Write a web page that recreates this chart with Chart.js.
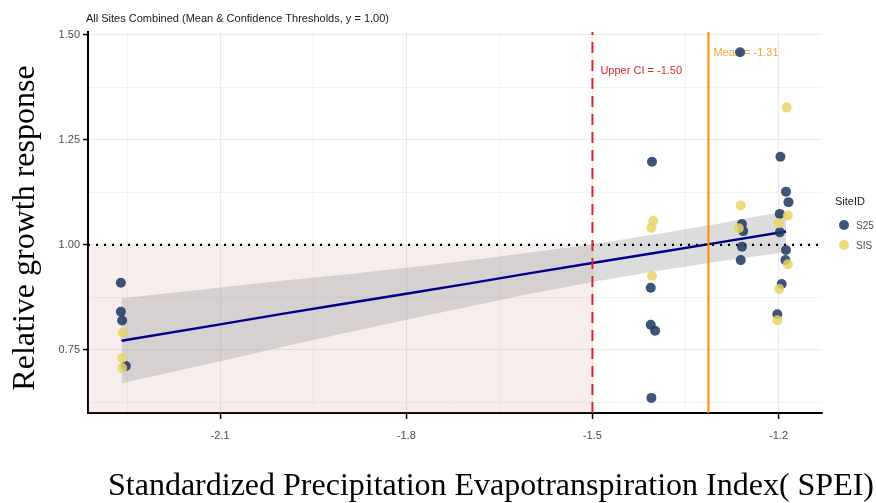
<!DOCTYPE html>
<html><head><meta charset="utf-8">
<script src="https://cdn.jsdelivr.net/npm/chart.js@4.4.1/dist/chart.umd.min.js"></script>
<style>html,body{margin:0;padding:0;background:#fff;}#wrap{width:876px;height:503px;}</style>
</head><body><div id="wrap"><canvas id="c" width="876" height="503"></canvas></div>
<script>
const chartTitle = 'All Sites Combined (Mean & Confidence Thresholds, y = 1.00)';
const xTitle = 'Standardized Precipitation Evapotranspiration Index( SPEI)';
const yTitle = 'Relative growth response';
const legendTitle = 'SiteID';
const siteNames = ['S25', 'SIS'];

const xTicks = [-2.1, -1.8, -1.5, -1.2];
const xMinorTicks = [-2.25, -1.95, -1.65, -1.35];
const yTicks = [0.75, 1.00, 1.25, 1.50];
const yMinorTicks = [0.625, 0.875, 1.125, 1.375];
const xRange = [-2.313, -1.130];
const yRange = [0.600, 1.507];

const s25X = [-2.260, -2.260, -2.258, -2.252,
  -1.404, -1.406, -1.406, -1.399, -1.405,
  -1.262, -1.197, -1.188, -1.184, -1.198, -1.198, -1.259, -1.257, -1.259, -1.261, -1.188, -1.189, -1.195, -1.202];
const s25Y = [0.910, 0.841, 0.820, 0.712,
  1.198, 0.898, 0.810, 0.796, 0.636,
  1.459, 1.210, 1.127, 1.102, 1.074, 1.030, 1.050, 1.033, 0.996, 0.964, 0.988, 0.964, 0.907, 0.835];
const sisX = [-2.257, -2.258, -2.258,
  -1.402, -1.405, -1.404,
  -1.187, -1.261, -1.185, -1.200, -1.264, -1.185, -1.199, -1.202];
const sisY = [0.791, 0.731, 0.707,
  1.057, 1.041, 0.926,
  1.327, 1.094, 1.070, 1.052, 1.040, 0.954, 0.895, 0.821];

const fitX    = [-2.259, -2.1, -2.0, -1.9, -1.8, -1.7, -1.6, -1.5, -1.4, -1.3, -1.188];
const fitY    = [0.772, 0.811, 0.836, 0.860, 0.884, 0.908, 0.933, 0.957, 0.981, 1.005, 1.032];
const ciLower = [0.671, 0.723, 0.757, 0.790, 0.822, 0.853, 0.884, 0.912, 0.937, 0.960, 0.983];
const ciUpper = [0.873, 0.899, 0.915, 0.930, 0.946, 0.963, 0.982, 1.002, 1.025, 1.050, 1.081];

const upperCI = -1.50;
const meanSPEI = -1.313;
const refY = 1.00;

const colS25 = 'rgba(28,54,98,0.85)';
const colSIS = 'rgba(233,211,100,0.85)';

const pts = (xs, ys) => xs.map((v, i) => ({x: v, y: ys[i]}));
const isMajor = (arr, v) => arr.some(t => Math.abs(t - v) < 1e-6);

const decor = {
  id: 'decor',
  beforeDatasetsDraw(chart) {
    const {ctx, chartArea: a, scales: {x, y}} = chart;
    ctx.save();
    const xr = x.getPixelForValue(upperCI), yt = y.getPixelForValue(refY);
    ctx.fillStyle = 'rgba(200,130,130,0.14)';
    ctx.fillRect(a.left, yt, xr - a.left, a.bottom - yt);
    ctx.font = '11px "Liberation Sans", Arial, sans-serif';
    ctx.textBaseline = 'middle';
    ctx.textAlign = 'left';
    ctx.fillStyle = '#d42a2a';
    ctx.fillText('Upper CI = ' + upperCI.toFixed(2), xr + 8, a.top + 39);
    ctx.fillStyle = '#f6a33c';
    ctx.fillText('Mean = ' + meanSPEI.toFixed(2), x.getPixelForValue(meanSPEI) + 5, a.top + 21);
    ctx.restore();
  },
  afterDraw(chart) {
    const {ctx, chartArea: a} = chart;
    ctx.save();
    ctx.fillStyle = '#1a1a1a';
    ctx.font = '11px "Liberation Sans", Arial, sans-serif';
    ctx.textAlign = 'left';
    ctx.textBaseline = 'middle';
    ctx.fillText(chartTitle, a.left - 2, 19);
    ctx.fillText(legendTitle, 835, 202);
    const cols = [colS25, colSIS];
    siteNames.forEach((n, i) => {
      const cy = 225 + i * 20;
      ctx.fillStyle = cols[i];
      ctx.beginPath(); ctx.arc(844, cy, 5, 0, Math.PI * 2); ctx.fill();
      ctx.fillStyle = '#4d4d4d';
      ctx.font = '10px "Liberation Sans", Arial, sans-serif';
      ctx.fillText(n, 856, cy + 1);
    });
    ctx.fillStyle = '#000';
    ctx.font = '32px "Liberation Serif", "Times New Roman", serif';
    ctx.textAlign = 'center';
    ctx.textBaseline = 'alphabetic';
    ctx.fillText(xTitle, 491, 495);
    ctx.translate(34, 228);
    ctx.rotate(-Math.PI / 2);
    ctx.fillText(yTitle, 0, 0);
    ctx.restore();
  }
};

const lineDs = (data, extra) => Object.assign({
  data, showLine: true, pointRadius: 0, pointHoverRadius: 0, fill: false
}, extra);

new Chart(document.getElementById('c'), {
  type: 'scatter',
  data: {
    datasets: [
      lineDs(pts(fitX, ciLower), {label: 'ciLower', borderWidth: 0, borderColor: 'rgba(0,0,0,0)', order: 20}),
      lineDs(pts(fitX, ciUpper), {label: 'ciUpper', borderWidth: 0, borderColor: 'rgba(0,0,0,0)', fill: '-1', backgroundColor: 'rgba(150,150,150,0.33)', order: 19}),
      lineDs(pts(fitX, fitY), {label: 'fit', borderColor: '#00008b', borderWidth: 2.5, order: 18}),
      lineDs([{x: xRange[0], y: refY}, {x: xRange[1], y: refY}], {label: 'ref', borderColor: '#000', borderWidth: 2.2, borderDash: [2, 6], order: 17}),
      {label: siteNames[0], data: pts(s25X, s25Y), backgroundColor: colS25, borderWidth: 0, pointRadius: 5, order: 6},
      {label: siteNames[1], data: pts(sisX, sisY), backgroundColor: colSIS, borderWidth: 0, pointRadius: 5, order: 5},
      lineDs([{x: upperCI, y: yRange[0]}, {x: upperCI, y: yRange[1]}], {label: 'upperCI', borderColor: '#e0202a', borderWidth: 2, borderDash: [11, 7], order: 2}),
      lineDs([{x: meanSPEI, y: yRange[0]}, {x: meanSPEI, y: yRange[1]}], {label: 'mean', borderColor: '#ff8c00', borderWidth: 2, order: 1})
    ]
  },
  options: {
    responsive: false,
    animation: false,
    devicePixelRatio: 1,
    layout: {padding: {top: 32, right: 54, left: 0, bottom: 0}},
    plugins: {legend: {display: false}, tooltip: {enabled: false}, title: {display: false}},
    elements: {line: {tension: 0}},
    scales: {
      x: {
        type: 'linear', min: xRange[0], max: xRange[1],
        afterFit(s) { s.height = 90; },
        afterBuildTicks(s) { s.ticks = xTicks.concat(xMinorTicks).sort((p, q) => p - q).map(v => ({value: v})); },
        ticks: {
          autoSkip: false, maxRotation: 0, padding: 10, color: '#4d4d4d',
          font: {family: '"Liberation Sans", Arial, sans-serif', size: 11},
          callback: v => isMajor(xTicks, v) ? String(v) : ''
        },
        grid: {
          color: '#ebebeb',
          lineWidth: c => (c.tick && isMajor(xTicks, c.tick.value)) ? 1.1 : 0.6,
          tickLength: 6,
          tickColor: c => (c.tick && isMajor(xTicks, c.tick.value)) ? '#000' : 'rgba(0,0,0,0)',
          tickWidth: 1.5
        },
        border: {display: true, color: '#000', width: 2}
      },
      y: {
        type: 'linear', min: yRange[0], max: yRange[1],
        afterFit(s) { s.width = 88; },
        afterBuildTicks(s) { s.ticks = yTicks.concat(yMinorTicks).sort((p, q) => p - q).map(v => ({value: v})); },
        ticks: {
          autoSkip: false, padding: 3, color: '#4d4d4d',
          font: {family: '"Liberation Sans", Arial, sans-serif', size: 11},
          callback: v => isMajor(yTicks, v) ? v.toFixed(2) : ''
        },
        grid: {
          color: '#ebebeb',
          lineWidth: c => (c.tick && isMajor(yTicks, c.tick.value)) ? 1.1 : 0.6,
          tickLength: 5,
          tickColor: c => (c.tick && isMajor(yTicks, c.tick.value)) ? '#000' : 'rgba(0,0,0,0)',
          tickWidth: 1.5
        },
        border: {display: true, color: '#000', width: 2}
      }
    }
  },
  plugins: [decor]
});
</script></body></html>
